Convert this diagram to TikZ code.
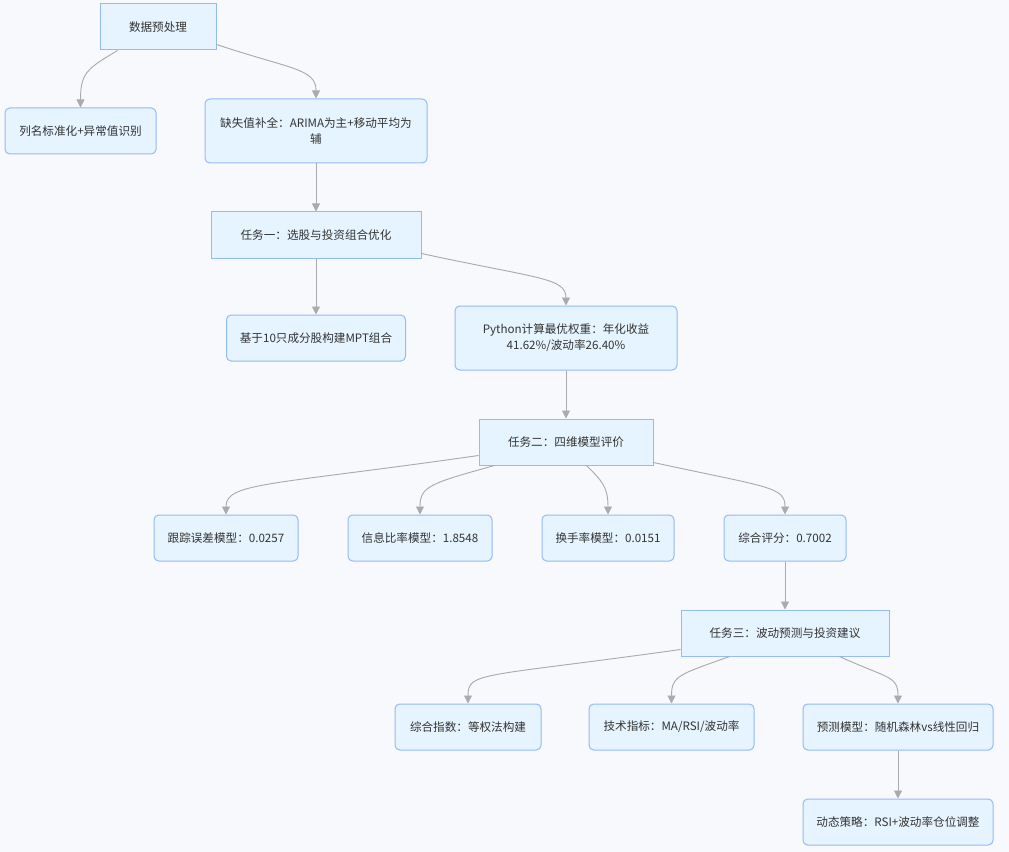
\documentclass[tikz,border=0pt]{standalone}
\usepackage{fontspec}
\setmainfont{Noto Sans CJK SC}
\usetikzlibrary{arrows.meta}
\definecolor{bgc}{HTML}{F8F9FC}
\definecolor{nodefill}{HTML}{E6F4FF}
\definecolor{nodeline}{HTML}{93BBF7}
\definecolor{edgec}{HTML}{ABABAB}
\definecolor{txt}{HTML}{333333}
\begin{document}
\begin{tikzpicture}[x=0.75pt,y=-0.75pt,
  box/.style={draw=nodeline,fill=nodefill,line width=0.75pt,inner sep=0pt,
    minimum height=34.5pt,text=txt,font=\fontsize{8.7}{12}\selectfont,align=center},
  rbox/.style={box,rounded corners=3.5pt},
  edge/.style={draw=edgec,line width=0.7pt,-{Triangle[length=6pt,width=6pt]}}]
\fill[bgc] (0,0) rectangle (1009,852);
\useasboundingbox (0,0) rectangle (1009,852);

\node[box,minimum width=87pt] (pre) at (158,27) {数据预处理};
\node[rbox,minimum width=113.25pt] (col) at (80.5,131) {列名标准化+异常值识别};
\node[rbox,minimum width=166.5pt,minimum height=48pt] (miss) at (316,131) {缺失值补全：ARIMA为主+移动平均为\\辅};
\node[box,minimum width=157.5pt] (t1) at (316,235) {任务一：选股与投资组合优化};
\node[rbox,minimum width=134.25pt] (mpt) at (316,338) {基于10只成分股构建MPT组合};
\node[rbox,minimum width=166.5pt,minimum height=48pt] (py) at (566,338) {Python计算最优权重：年化收益\\41.62\%/波动率26.40\%};
\node[box,minimum width=130.5pt] (t2) at (566,442) {任务二：四维模型评价};
\node[rbox,minimum width=108pt] (te) at (226,538) {跟踪误差模型：0.0257};
\node[rbox,minimum width=108pt] (ir) at (420,538) {信息比率模型：1.8548};
\node[rbox,minimum width=99pt] (to) at (608,538) {换手率模型：0.0151};
\node[rbox,minimum width=91.5pt] (sc) at (785,538) {综合评分：0.7002};
\node[box,minimum width=156pt] (t3) at (785,633) {任务三：波动预测与投资建议};
\node[rbox,minimum width=109.5pt] (ci) at (468,727) {综合指数：等权法构建};
\node[rbox,minimum width=123.75pt] (ti) at (671.5,727) {技术指标：MA/RSI/波动率};
\node[rbox,minimum width=142.5pt] (pm) at (898,727) {预测模型：随机森林vs线性回归};
\node[rbox,minimum width=142.5pt] (ds) at (898,822) {动态策略：RSI+波动率仓位调整};

\draw[edge] ([shift={(18,0)}]pre.south west) .. controls +(-30,18) and +(0,-35) .. (col.north);
\draw[edge] ([shift={(0,-6)}]pre.south east) .. controls +(75,25) and +(0,-30) .. (miss.north);
\draw[edge] (miss) -- (t1);
\draw[edge] (t1) -- (mpt);
\draw[edge] ([shift={(0,-5)}]t1.south east) .. controls +(115,25) and +(0,-28) .. (py.north);
\draw[edge] (py) -- (t2);
\draw[edge] ([shift={(0,-10)}]t2.south west) .. controls +(-210,30) and +(0,-32) .. (te.north);
\draw[edge] ([shift={(16,0)}]t2.south west) .. controls +(-65,18) and +(0,-28) .. (ir.north);
\draw[edge] ([shift={(108,0)}]t2.south west) .. controls +(15,15) and +(0,-28) .. (to.north);
\draw[edge] ([shift={(0,-3)}]t2.south east) .. controls +(115,25) and +(0,-28) .. (sc.north);
\draw[edge] (sc) -- (t3);
\draw[edge] ([shift={(0,-7)}]t3.south west) .. controls +(-200,28) and +(0,-32) .. (ci.north);
\draw[edge] ([shift={(49,0)}]t3.south west) .. controls +(-50,18) and +(0,-28) .. (ti.north);
\draw[edge] ([shift={(159,0)}]t3.south west) .. controls +(48,22) and +(0,-28) .. (pm.north);
\draw[edge] (pm) -- (ds);
\end{tikzpicture}
\end{document}
